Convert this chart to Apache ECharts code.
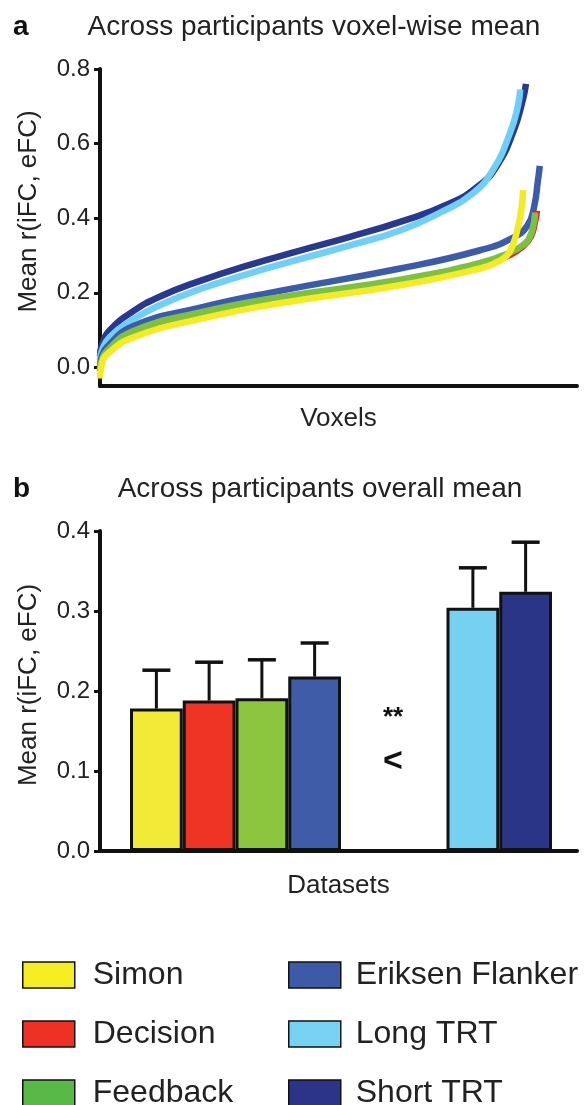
<!DOCTYPE html>
<html>
<head>
<meta charset="utf-8">
<script src="https://cdn.jsdelivr.net/npm/echarts@6/dist/echarts.min.js"></script>
<style>
html,body{margin:0;padding:0;background:#fff;}
#main{width:585px;height:1105px;}
</style>
</head>
<body>
<div id="main"></div>
<script>
// ---------- DATA ----------
const datasetNames = ['Simon', 'Decision', 'Feedback', 'Eriksen Flanker', 'Long TRT', 'Short TRT'];

// Panel a: sorted voxel-wise mean r(iFC, eFC); x = voxel rank (arbitrary units, 0-100 axis)
const simonCurve = [[0,-0.03],[0.4,0.01],[1.5,0.035],[6.9,0.08],[21,0.13],[37.7,0.172],[62.9,0.22],[79.7,0.265],[83.2,0.282],[85.3,0.30],[86.6,0.33],[87.5,0.37],[88.3,0.42],[88.7,0.476]];
const decisionCurve = [[0,-0.01],[0.4,0.015],[1.5,0.04],[6.9,0.087],[21,0.137],[37.7,0.178],[62.9,0.226],[79.7,0.272],[86,0.302],[88.7,0.325],[90.3,0.35],[91.2,0.39],[91.6,0.42]];
const feedbackCurve = [[0,-0.005],[0.4,0.02],[1.5,0.045],[6.9,0.097],[21,0.147],[37.7,0.188],[62.9,0.235],[79.7,0.28],[86,0.308],[88.7,0.328],[90.1,0.35],[91,0.39],[91.2,0.415]];
const eriksenCurve = [[0,0.0],[0.4,0.03],[1.5,0.055],[6.9,0.11],[21,0.16],[37.7,0.205],[62.9,0.265],[79.7,0.314],[86.6,0.348],[89.6,0.38],[91.0,0.43],[91.8,0.50],[92.2,0.54]];
const longTRTCurve = [[0,0.02],[0.4,0.045],[2.1,0.082],[6.9,0.128],[12.6,0.167],[21,0.21],[31.4,0.252],[41.9,0.29],[52.4,0.327],[62.9,0.367],[71.3,0.415],[78,0.465],[82.4,0.53],[86,0.63],[87.6,0.70],[88.1,0.745]];
const shortTRTCurve = [[0,0.03],[0.4,0.06],[2.1,0.10],[6.9,0.15],[12.6,0.19],[21,0.232],[31.4,0.275],[41.9,0.313],[52.4,0.35],[62.9,0.39],[73.4,0.44],[79.7,0.49],[83.2,0.54],[86.6,0.63],[88.7,0.72],[89.3,0.76]];
const yTicksA = [0, 0.2, 0.4, 0.6, 0.8];

// Panel b: overall mean and upper error
const barSlots = ['Simon', 'Decision', 'Feedback', 'Eriksen Flanker', '', ' ', 'Long TRT', 'Short TRT'];
const barMeans = [0.178, 0.188, 0.191, 0.218, 0.304, 0.324];
const barErrors = [0.048, 0.048, 0.048, 0.042, 0.050, 0.062];

// ---------- STYLE ----------
const FONT = '"Liberation Sans", Arial, Helvetica, sans-serif';
const lineColors = {'Simon':'#f4eb26','Decision':'#ed1c24','Feedback':'#7dc143','Eriksen Flanker':'#3c5baa','Long TRT':'#6fcff5','Short TRT':'#2a3990'};
const barColors = {'Simon':'#f3ea38','Decision':'#ee3224','Feedback':'#8cc63f','Eriksen Flanker':'#3f5ca9','Long TRT':'#76d0f2','Short TRT':'#2b3587'};
const legendColors = {'Simon':'#f6ee23','Decision':'#ee3124','Feedback':'#58b947','Eriksen Flanker':'#3c5aa8','Long TRT':'#76d1f3','Short TRT':'#2b3489'};
const curves = {'Simon':simonCurve,'Decision':decisionCurve,'Feedback':feedbackCurve,'Eriksen Flanker':eriksenCurve,'Long TRT':longTRTCurve,'Short TRT':shortTRTCurve};
const drawOrder = ['Short TRT','Long TRT','Eriksen Flanker','Decision','Feedback','Simon'];

const axisLineStyle = {show:true, onZero:false, lineStyle:{color:'#111', width:4}};
const tickStyle = {show:true, length:6, lineStyle:{color:'#111', width:3}};
const labelStyle = {fontSize:24, color:'#222', fontFamily:FONT, margin:10};

const series = [];
drawOrder.forEach((name, i) => {
  series.push({
    type:'line', name, xAxisIndex:0, yAxisIndex:0,
    data: curves[name], showSymbol:false, smooth:0.5,
    lineStyle:{color:lineColors[name], width:6.5, cap:'butt', join:'round'},
    itemStyle:{color:lineColors[name]}, z: 2 + i
  });
});
datasetNames.forEach((name, i) => {
  series.push({
    type:'bar', name, xAxisIndex:2, yAxisIndex:2, barGap:'-100%', barWidth:'100%',
    data: barSlots.map(s => s === name ? barMeans[i] : '-'),
    itemStyle:{color:barColors[name], borderColor:'#111', borderWidth:3}, z:3
  });
});
series.push({
  type:'custom', name:'error', xAxisIndex:2, yAxisIndex:2, z:4,
  data: datasetNames.map((n, i) => [n, barMeans[i], barMeans[i] + barErrors[i]]),
  encode:{x:0, y:[1,2]},
  renderItem: function (params, api) {
    const x = api.value(0);
    const lo = api.coord([x, api.value(1)]);
    const hi = api.coord([x, api.value(2)]);
    const half = 14;
    return {type:'group', children:[
      {type:'line', shape:{x1:lo[0], y1:lo[1], x2:hi[0], y2:hi[1]}, style:{stroke:'#111', lineWidth:3}},
      {type:'line', shape:{x1:hi[0]-half, y1:hi[1], x2:hi[0]+half, y2:hi[1]}, style:{stroke:'#111', lineWidth:3.5}}
    ]};
  }
});

function legendItems(names){
  return names.map(n => ({name:n, itemStyle:{color:legendColors[n], borderColor:'#111', borderWidth:1.5}}));
}
const legendBase = {orient:'vertical', top:959, height:300, padding:0, itemWidth:52, itemHeight:26, itemGap:27, icon:'rect', selectedMode:false};

const option = {
  animation:false,
  backgroundColor:'#fff',
  textStyle:{fontFamily:FONT},
  grid:[
    {left:100, right:8, top:69, bottom:719, outerBoundsMode:'none', containLabel:false},
    {left:100, right:8, top:531, bottom:254, outerBoundsMode:'none', containLabel:false},
    {left:130, right:33, top:531, bottom:254, outerBoundsMode:'none', containLabel:false}
  ],
  xAxis:[
    {gridIndex:0, type:'value', min:0, max:100, axisLine:axisLineStyle, axisTick:{show:false}, axisLabel:{show:false}, splitLine:{show:false},
     name:'Voxels', nameLocation:'middle', nameGap:20, nameTextStyle:{fontSize:26, color:'#222', fontFamily:FONT}},
    {gridIndex:1, type:'value', min:0, max:1, axisLine:axisLineStyle, axisTick:{show:false}, axisLabel:{show:false}, splitLine:{show:false},
     name:'Datasets', nameLocation:'middle', nameGap:22, nameTextStyle:{fontSize:26, color:'#222', fontFamily:FONT}},
    {gridIndex:2, type:'category', data:barSlots, show:false}
  ],
  yAxis:[
    {gridIndex:0, type:'value', min:-0.05, max:0.8, axisLine:axisLineStyle,
     axisTick:Object.assign({customValues:yTicksA}, tickStyle),
     axisLabel:Object.assign({customValues:yTicksA, formatter:v => v.toFixed(1)}, labelStyle),
     splitLine:{show:false},
     name:'Mean r(iFC, eFC)', nameLocation:'middle', nameGap:58,
     nameTextStyle:{fontSize:26, color:'#222', fontFamily:FONT, padding:[0,0,0,32]}},
    {gridIndex:1, type:'value', min:0, max:0.4, interval:0.1, axisLine:axisLineStyle,
     axisTick:tickStyle, axisLabel:Object.assign({formatter:v => v.toFixed(1)}, labelStyle),
     splitLine:{show:false},
     name:'Mean r(iFC, eFC)', nameLocation:'middle', nameGap:58,
     nameTextStyle:{fontSize:26, color:'#222', fontFamily:FONT, padding:[0,0,0,12]}},
    {gridIndex:2, type:'value', min:0, max:0.4, show:false}
  ],
  legend:[
    Object.assign({left:22, textStyle:{fontSize:32, color:'#222', padding:[0,0,0,13], fontFamily:FONT},
      data:legendItems(['Simon','Decision','Feedback'])}, legendBase),
    Object.assign({left:288, textStyle:{fontSize:32, color:'#222', padding:[0,0,0,10], fontFamily:FONT},
      data:legendItems(['Eriksen Flanker','Long TRT','Short TRT'])}, legendBase)
  ],
  graphic:[
    {type:'text', x:13, y:27, style:{text:'a', font:'bold 28px ' + FONT, fill:'#111', align:'left', verticalAlign:'middle'}},
    {type:'text', x:314, y:27, style:{text:'Across participants voxel-wise mean', font:'28px ' + FONT, fill:'#222', align:'center', verticalAlign:'middle'}},
    {type:'text', x:13, y:489, style:{text:'b', font:'bold 28px ' + FONT, fill:'#111', align:'left', verticalAlign:'middle'}},
    {type:'text', x:320, y:489, style:{text:'Across participants overall mean', font:'28px ' + FONT, fill:'#222', align:'center', verticalAlign:'middle'}},
    {type:'text', x:393, y:718, style:{text:'**', font:'bold 26px ' + FONT, fill:'#111', align:'center', verticalAlign:'middle'}},
    {type:'text', x:393, y:762, style:{text:'<', font:'bold 34px ' + FONT, fill:'#111', align:'center', verticalAlign:'middle'}}
  ],
  series
};

const chart = echarts.init(document.getElementById('main'), null, {renderer:'canvas'});
chart.setOption(option);
</script>
</body>
</html>
